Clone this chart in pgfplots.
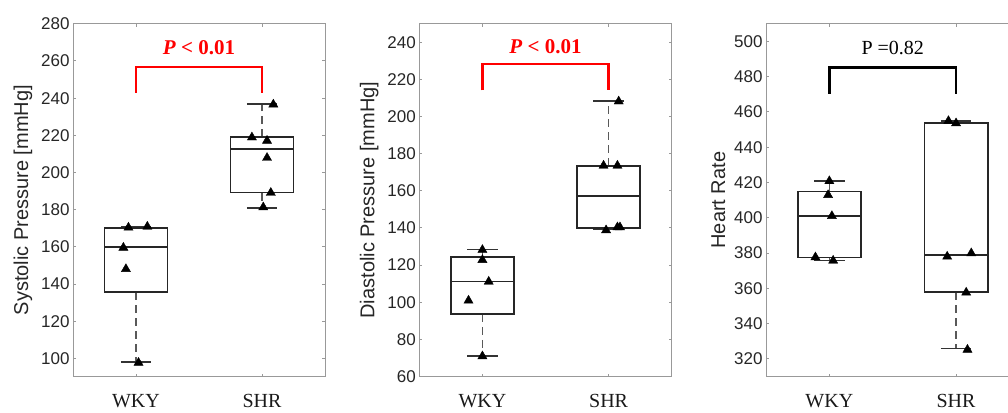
\documentclass[border=0pt]{standalone}
\usepackage{pgfplots}
\pgfplotsset{compat=1.18}
\usepgfplotslibrary{statistics}
\usepackage{fontspec}
\setmainfont{Liberation Serif}
\setsansfont{Liberation Sans}

\tikzset{
  whisk/.style={draw=black!65, line width=1.7pt, dash pattern=on 8pt off 5pt},
  wcap/.style={draw=black!80, line width=1.7pt, solid},
}
\pgfplotsset{
  boxplot/draw/lower whisker/.code={%
    \draw[whisk] (boxplot cs:\pgfplotsboxplotvalue{lower quartile}) -- (boxplot cs:\pgfplotsboxplotvalue{lower whisker});
    \draw[wcap] (boxplot whisker cs:\pgfplotsboxplotvalue{lower whisker},0) -- (boxplot whisker cs:\pgfplotsboxplotvalue{lower whisker},1);
  },
  boxplot/draw/upper whisker/.code={%
    \draw[whisk] (boxplot cs:\pgfplotsboxplotvalue{upper quartile}) -- (boxplot cs:\pgfplotsboxplotvalue{upper whisker});
    \draw[wcap] (boxplot whisker cs:\pgfplotsboxplotvalue{upper whisker},0) -- (boxplot whisker cs:\pgfplotsboxplotvalue{upper whisker},1);
  },
  panel/.style={
    scale only axis, anchor=south west, height=352.7pt,
    xmin=0.5, xmax=2.5, xtick={1,2}, xticklabels={WKY,SHR},
    tick align=inside, tick pos=both, major tick length=3pt,
    axis line style={draw=black!40, line width=1pt},
    tick style={draw=black!40, line width=1pt},
    /pgf/number format/assume math mode=true,
    yticklabel style={font=\sffamily\fontsize{17}{17}\selectfont, text=black!85},
    xticklabel style={font=\fontsize{20}{20}\selectfont, text=black!90, yshift=-14pt},
    ylabel style={font=\sffamily\fontsize{20}{20}\selectfont, text=black!85, yshift=2pt},
    boxplot/draw direction=y,
    boxplot/box extend=0.5,
    boxplot/whisker extend=0.24,
    boxplot/every box/.style={draw=black!85, line width=1.7pt},
    boxplot/every median/.style={draw=black!85, line width=1.7pt},
    clip=false,
  },
  pts/.style={only marks, mark=triangle*, mark size=5.3pt, black},
  brk/.style={line width=2.4pt},
}

\begin{document}
\begin{tikzpicture}
\useasboundingbox (0,0) rectangle (1008pt,412pt);

% Systolic
\begin{axis}[panel, at={(73pt,35.5pt)}, width=252pt,
  ymin=90.3, ymax=280, ytick={100,120,...,280},
  ylabel={Systolic Pressure [mmHg]}]
\addplot[boxplot prepared={draw position=1, lower whisker=98.2, lower quartile=135.6,
  median=159.8, upper quartile=170.3, upper whisker=171}] coordinates {};
\addplot[boxplot prepared={draw position=2, lower whisker=181.1, lower quartile=189.2,
  median=212.5, upper quartile=219.1, upper whisker=236.9}] coordinates {};
\addplot[pts] coordinates {(0.94,170.4) (1.09,170.9) (0.90,159.6) (0.92,148.1) (1.02,97.7)
  (2.09,236.6) (1.92,218.9) (2.04,217.1) (2.04,207.9) (2.07,189.1) (2.01,181.3)};
\addplot[brk, red] coordinates {(1,242.8) (1,256.9) (2,256.9) (2,242.8)};
\node[text=red, font=\fontsize{21}{21}\selectfont\bfseries] at (axis cs:1.5,267.3) {\textit{P} < 0.01};
\end{axis}

% Diastolic
\begin{axis}[panel, at={(419.3pt,35.5pt)}, width=252.4pt,
  ymin=60, ymax=250, ytick={60,80,...,240},
  ylabel={Diastolic Pressure [mmHg]}]
\addplot[boxplot prepared={draw position=1, lower whisker=71.1, lower quartile=93.8,
  median=111.2, upper quartile=124.3, upper whisker=128.4}] coordinates {};
\addplot[boxplot prepared={draw position=2, lower whisker=139.4, lower quartile=140.1,
  median=157.1, upper quartile=173.5, upper whisker=208.5}] coordinates {};
\addplot[pts] coordinates {(1.0,128.2) (1.0,122.8) (1.05,111.1) (0.89,100.9) (1.0,70.9)
  (2.08,208.2) (1.96,173.6) (2.07,173.6) (1.98,138.8) (2.07,140.4) (2.09,140.4)};
\addplot[brk, red] coordinates {(1,214.2) (1,228.4) (2,228.4) (2,214.2)};
\node[text=red, font=\fontsize{21}{21}\selectfont\bfseries] at (axis cs:1.5,237.7) {\textit{P} < 0.01};
\end{axis}

% Heart rate
\begin{axis}[panel, at={(766pt,35.5pt)}, width=253.4pt,
  ymin=310, ymax=510, ytick={320,340,...,500},
  ylabel={Heart Rate}]
\addplot[boxplot prepared={draw position=1, lower whisker=375.8, lower quartile=377.4,
  median=400.9, upper quartile=414.9, upper whisker=421}] coordinates {};
\addplot[boxplot prepared={draw position=2, lower whisker=325.9, lower quartile=357.9,
  median=378.9, upper quartile=453.8, upper whisker=454.9}] coordinates {};
\addplot[pts] coordinates {(1.0,420.8) (0.99,412.9) (1.02,401.0) (0.89,377.6) (1.03,375.7)
  (1.94,454.9) (2.0,453.6) (1.93,378.0) (2.12,379.9) (2.08,357.6) (2.09,325.2)};
\addplot[brk, black] coordinates {(1,470.2) (1,485.3) (2,485.3) (2,470.2)};
\node[font=\fontsize{20}{20}\selectfont] at (axis cs:1.5,496.2) {P =0.82};
\end{axis}
\end{tikzpicture}
\end{document}
